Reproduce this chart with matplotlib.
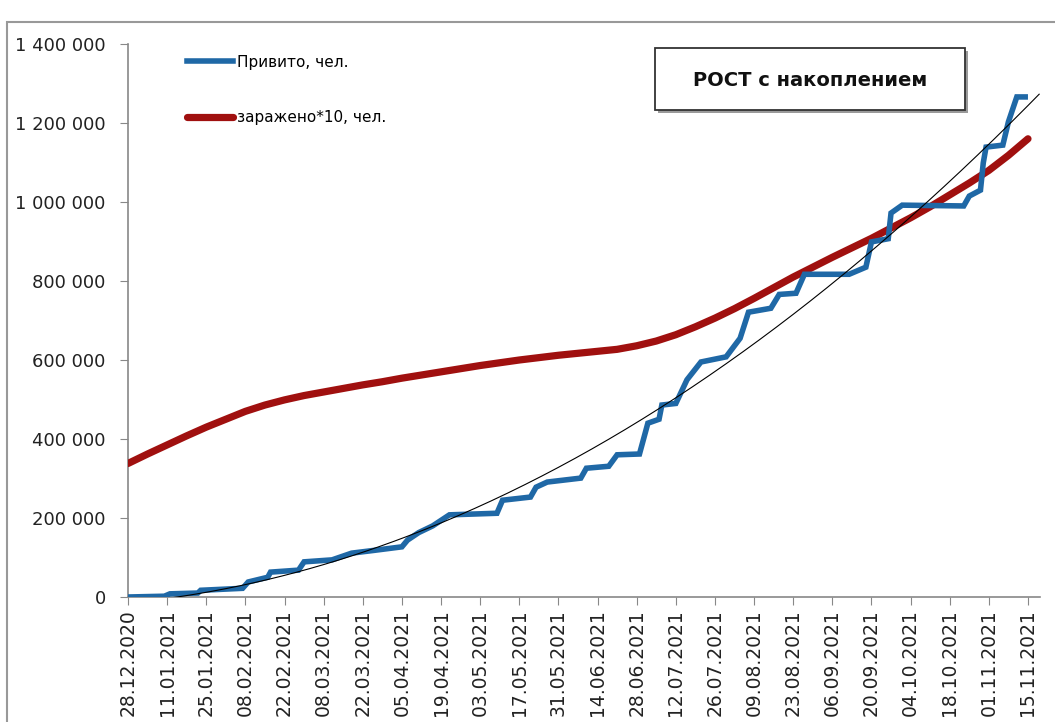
import numpy as np
import pandas as pd
import matplotlib
matplotlib.use("Agg")
import matplotlib.pyplot as plt
from matplotlib.patches import Rectangle

plt.rcParams['font.family'] = ['DejaVu Sans']

start = pd.Timestamp('2020-12-28')

# Vaccinated (cumulative), day offset from 28.12.2020 -> people
blue_days = [0, 13, 15, 25, 26, 41, 43, 50, 51, 61, 63, 73, 80, 88, 98, 100, 104,
             109, 115, 132, 134, 144, 146, 150, 162, 164, 172, 175, 183, 186, 190,
             191, 196, 200, 205, 214, 219, 222, 230, 233, 239, 242, 258, 264, 266,
             272, 273, 277, 299, 301, 305, 306, 307, 313, 315, 318, 321]
blue_vals = [0, 2000, 8000, 10000, 17000, 22000, 38000, 50000, 63000, 68000, 89000,
             94000, 111000, 118000, 127000, 144000, 163000, 180000, 208000, 212000,
             245000, 253000, 278000, 291000, 301000, 326000, 331000, 360000, 362000,
             440000, 450000, 486000, 490000, 550000, 595000, 608000, 655000, 721000,
             731000, 766000, 769000, 817000, 817000, 835000, 899000, 907000, 972000,
             992000, 990000, 1015000, 1030000, 1099000, 1139000, 1144000, 1203000,
             1266000, 1266000]

# Infected * 10 (cumulative), weekly
red_days = list(range(0, 323, 7))
red_vals = [338000, 362000, 385000, 408000, 430000, 450000, 470000, 486000, 499000,
            510000, 519000, 528000, 537000, 545000, 554000, 562000, 570000, 578000,
            586000, 593000, 600000, 606000, 612000, 617000, 622000, 627000, 636000,
            648000, 664000, 684000, 706000, 730000, 756000, 783000, 810000, 835000,
            860000, 884000, 908000, 934000, 960000, 988000, 1018000, 1048000, 1080000,
            1118000, 1160000]

trend_read_days = [22, 80, 140, 176, 200, 236, 262, 295, 326]
trend_read_vals = [0, 109000, 289000, 405000, 524000, 701000, 853000, 1055000, 1278000]

tick_labels = ['28.12.2020', '11.01.2021', '25.01.2021', '08.02.2021', '22.02.2021',
               '08.03.2021', '22.03.2021', '05.04.2021', '19.04.2021', '03.05.2021',
               '17.05.2021', '31.05.2021', '14.06.2021', '28.06.2021', '12.07.2021',
               '26.07.2021', '09.08.2021', '23.08.2021', '06.09.2021', '20.09.2021',
               '04.10.2021', '18.10.2021', '01.11.2021', '15.11.2021']
y_ticks = [0, 200000, 400000, 600000, 800000, 1000000, 1200000, 1400000]

legend_labels = ['Привито, чел.', 'заражено*10, чел.']
title_text = 'РОСТ с накоплением'

blue_x = start + pd.to_timedelta(blue_days, unit='D')
red_x = start + pd.to_timedelta(red_days, unit='D')
tick_x = pd.to_datetime(tick_labels, format='%d.%m.%Y')

# quadratic trendline fitted through the read trend points
coef = np.polyfit(trend_read_days, trend_read_vals, 2)
trend_days = np.arange(0, 327)
trend_x = start + pd.to_timedelta(trend_days, unit='D')
trend_vals = np.polyval(coef, trend_days)

fig = plt.figure(figsize=(10.55, 7.22), dpi=100)
ax = fig.add_axes([128/1055, 1-597/722, (1040-128)/1055, (597-44)/722])

ax.plot(red_x, red_vals, color='#a0100f', lw=5.2, solid_capstyle='round', zorder=3,
        label=legend_labels[1])
ax.plot(blue_x, blue_vals, color='#1f68a6', lw=4.0, solid_joinstyle='miter', zorder=4,
        label=legend_labels[0])
ax.plot(trend_x, trend_vals, color='black', lw=0.8, zorder=5)

ax.set_ylim(0, 1400000)
ax.set_xlim(start, start + pd.Timedelta(days=326.3))
ax.set_yticks(y_ticks)
ax.set_yticklabels([f'{v:,}'.replace(',', ' ') for v in y_ticks], fontsize=13,
                   color='#222222')
ax.set_xticks(tick_x)
ax.set_xticklabels(tick_labels, rotation=90, fontsize=13.5, color='#222222')
ax.tick_params(axis='y', length=6, pad=10, color='#888888')
ax.tick_params(axis='x', length=6, pad=3, color='#888888')
for s in ['top', 'right']:
    ax.spines[s].set_visible(False)
for s in ['left', 'bottom']:
    ax.spines[s].set_color('#888888')
    ax.spines[s].set_linewidth(1.2)

h, l = ax.get_legend_handles_labels()
leg = ax.legend([h[1], h[0]], [l[1], l[0]], loc='upper left',
                bbox_to_anchor=(45/912, 1+3/553), frameon=False, fontsize=11,
                handlelength=3.0, handletextpad=0.3, labelspacing=2.65)

# title box with shadow
fx0, fy0 = 655/1055, 1-110/722
fw, fh = (965-655)/1055, (110-48)/722
fig.add_artist(Rectangle((fx0+3/1055, fy0-3/722), fw, fh, transform=fig.transFigure,
                         facecolor='#9a9a9a', edgecolor='none', zorder=9))
fig.add_artist(Rectangle((fx0, fy0), fw, fh, transform=fig.transFigure,
                         facecolor='white', edgecolor='#333333', lw=1.3, zorder=10))
fig.text(fx0+fw/2, fy0+fh/2-1/722, title_text, ha='center', va='center',
         fontsize=14, fontweight='bold', color='#111111', zorder=11)

# chart area frame
fig.add_artist(Rectangle((7/1055, -0.1), 1.2, 1-22/722+0.1, transform=fig.transFigure,
                         facecolor='none', edgecolor='#999999', lw=1.5))

fig.savefig('out.png', dpi=100)
